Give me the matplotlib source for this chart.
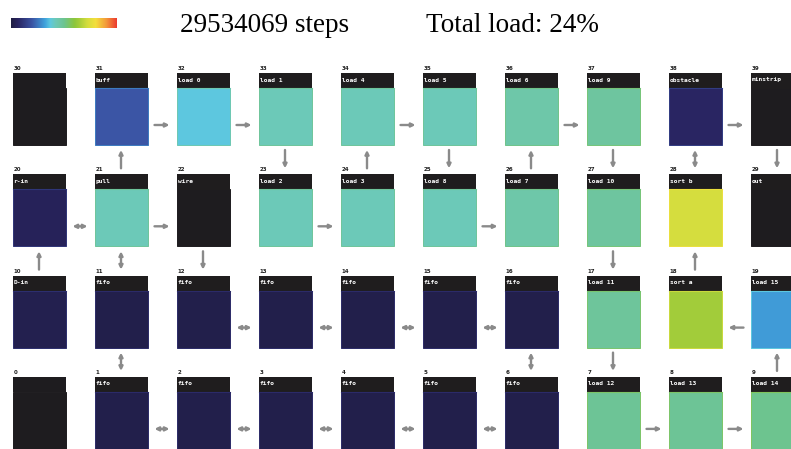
import numpy as np
import matplotlib
matplotlib.use("Agg")
import matplotlib.pyplot as plt
from matplotlib.colors import LinearSegmentedColormap
from matplotlib.patches import Rectangle, FancyArrowPatch

# simulation state
steps = 29534069
total_load = 24

# cell labels, id 0..39 (row of ten, bottom row first)
labels = [
    "", "fifo", "fifo", "fifo", "fifo", "fifo", "fifo", "load 12", "load 13", "load 14",
    "D-in", "fifo", "fifo", "fifo", "fifo", "fifo", "fifo", "load 11", "sort a", "load 15",
    "r-in", "pull", "wire", "load 2", "load 3", "load 8", "load 7", "load 10", "sort b", "out",
    "", "buff", "load 0", "load 1", "load 4", "load 5", "load 6", "load 9", "obstacle", "minstrip",
]

# load per cell (None = idle)
loads = [
    None, 0.02, 0.02, 0.02, 0.02, 0.02, 0.02, 0.49, 0.49, 0.50,
    0.03, 0.02, 0.02, 0.02, 0.02, 0.02, 0.02, 0.48, 0.64, 0.31,
    0.05, 0.42, None, 0.42, 0.42, 0.42, 0.45, 0.47, 0.72, None,
    None, 0.20, 0.37, 0.42, 0.42, 0.42, 0.45, 0.47, 0.07, None,
]

# links: (from, to, both ways)
links = [
    (31, 32, False), (32, 33, False), (34, 35, False), (36, 37, False), (38, 39, False),
    (21, 31, False), (33, 23, False), (24, 34, False), (35, 25, False), (26, 36, False),
    (37, 27, False), (38, 28, True), (39, 29, False),
    (20, 21, True), (21, 22, False), (23, 24, False), (25, 26, False),
    (10, 20, False), (11, 21, True), (22, 12, False), (27, 17, False), (18, 28, False),
    (12, 13, True), (13, 14, True), (14, 15, True), (15, 16, True), (19, 18, False),
    (1, 11, True), (6, 16, True), (17, 7, False), (9, 19, False),
    (1, 2, True), (2, 3, True), (3, 4, True), (4, 5, True), (5, 6, True), (7, 8, False), (8, 9, False),
]

cmap = LinearSegmentedColormap.from_list("load", [
    (0.00, "#1f1d42"), (0.06, "#28235f"), (0.20, "#3b55a5"), (0.32, "#40a2dc"),
    (0.37, "#5ec8df"), (0.42, "#6cc9b8"), (0.46, "#6fc6a4"), (0.50, "#6cc491"),
    (0.60, "#8cc63c"), (0.64, "#a2cc3a"), (0.72, "#d4dd3e"), (0.80, "#f3df3c"),
    (0.90, "#f39a3a"), (1.00, "#ec3b2f"),
])

idle = "#1e1c1f"
head = "#1f1d1e"
x_left, dx, cw = 12.5, 82, 53
y_top, dy, hh, bh = 73, 101.3, 15, 57

fig = plt.figure(figsize=(7.91, 4.49), dpi=100)
ax = fig.add_axes([0, 0, 1, 1])
ax.set_xlim(0, 791)
ax.set_ylim(449, 0)
ax.axis("off")

# colour scale
ax.imshow(np.linspace(0, 1, 256)[None, :], cmap=cmap, extent=[11, 117, 28, 18], aspect="auto")
ax.text(180, 31.5, f"{steps} steps", fontsize=19.5, family="Liberation Serif")
ax.text(426, 31.5, f"Total load: {total_load}%", fontsize=19.5, family="Liberation Serif")


def cell_xy(n):
    return x_left + dx * (n % 10), y_top + dy * (3 - n // 10)


for n, (lab, ld) in enumerate(zip(labels, loads)):
    x, y = cell_xy(n)
    if ld is None:
        body, edge = idle, idle
    else:
        body, edge = cmap(ld), cmap(min(ld + 0.06, 1))
    ax.add_patch(Rectangle((x, y + hh), cw, bh, facecolor=body, edgecolor=edge, lw=0.7))
    ax.add_patch(Rectangle((x, y), cw, hh + 0.5, facecolor=head if lab else idle, lw=0))
    if ld is not None:
        ax.plot([x, x + cw], [y + hh, y + hh], color=edge, lw=0.8)
    ax.text(x + 1, y - 3, str(n), fontsize=4, fontweight="bold", family="DejaVu Sans", color="#222222")
    if lab:
        t = ax.text(x + 1, y + 7, lab, fontsize=4.5, fontweight="bold", family="DejaVu Sans Mono",
                    color="white", va="center")
        t.set_clip_path(Rectangle((x, y), cw, hh, transform=ax.transData))

for a, b, both in links:
    xa, ya = cell_xy(a)
    xb, yb = cell_xy(b)
    if ya == yb:
        yc = ya + hh + 37
        if xb > xa:
            p0, p1 = (xa + cw + 7, yc), (xb - 7, yc)
        else:
            p0, p1 = (xa - 7, yc), (xb + cw + 7, yc)
    else:
        xc = xa + cw / 2
        if yb < ya:
            p0, p1 = (xc, ya - 6), (xc, yb + hh + bh + 5)
        else:
            p0, p1 = (xc, ya + hh + bh + 5), (xc, yb - 6)
    style = "<|-|>" if both else "-|>"
    ax.add_patch(FancyArrowPatch(p0, p1, arrowstyle=style, mutation_scale=5.5,
                                 color="#8a8a8a", lw=1.7, shrinkA=0, shrinkB=0))

fig.savefig("out.png", dpi=100)
